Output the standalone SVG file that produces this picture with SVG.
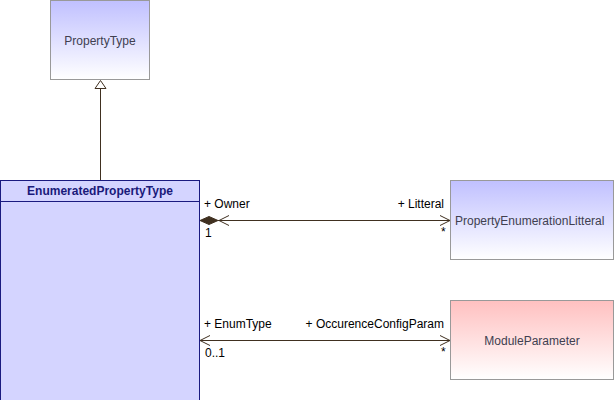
<svg xmlns="http://www.w3.org/2000/svg" width="614" height="400" viewBox="0 0 614 400">
<style>
.lbl{font-family:"Liberation Sans",Arial,sans-serif;font-size:12px;fill:#000}
.name{font-family:"Liberation Sans",Arial,sans-serif;font-size:12px;fill:#404050}
.title{font-family:"Liberation Sans",Arial,sans-serif;font-size:12px;font-weight:bold;fill:#1a1a7a}
.box{stroke:#999;stroke-width:1}
.conn{stroke:#403020;stroke-width:1;fill:none}
</style>
<defs>
<linearGradient id="gBlue" x1="0" y1="0" x2="0" y2="1">
<stop offset="0" stop-color="#c0c0ff"/>
<stop offset="1" stop-color="#ffffff"/>
</linearGradient>
<linearGradient id="gRed" x1="0" y1="0" x2="0" y2="1">
<stop offset="0" stop-color="#ffc0c0"/>
<stop offset="1" stop-color="#ffffff"/>
</linearGradient>
</defs>
<rect width="614" height="400" fill="#fff"/>
<g id="PropertyType">
<rect class="box" x="50.5" y="0.5" width="99" height="79" fill="url(#gBlue)"/>
<text class="name" x="100" y="45" text-anchor="middle">PropertyType</text>
</g>
<g id="EnumeratedPropertyType">
<rect x="0.5" y="180.5" width="199" height="222" fill="#d4d4ff" stroke="#1a1a80" stroke-width="1"/>
<line x1="0" y1="201.5" x2="200" y2="201.5" stroke="#1a1a80" stroke-width="1"/>
<text class="title" x="100" y="195" text-anchor="middle">EnumeratedPropertyType</text>
</g>
<g id="PropertyEnumerationLitteral">
<rect class="box" x="450.5" y="180.5" width="163" height="79" fill="url(#gBlue)"/>
<text class="name" x="455" y="225">PropertyEnumerationLitteral</text>
</g>
<g id="ModuleParameter">
<rect class="box" x="450.5" y="300.5" width="163" height="79" fill="url(#gRed)"/>
<text class="name" x="532" y="345" text-anchor="middle">ModuleParameter</text>
</g>
<g id="connectors">
<line class="conn" x1="100.5" y1="88" x2="100.5" y2="180"/>
<polygon points="100.5,80.5 95,88.5 106,88.5" fill="#fff" stroke="#403020"/>
<line class="conn" x1="218" y1="220.5" x2="450" y2="220.5"/>
<polygon points="200,220.5 209,216.5 218,220.5 209,224.5" fill="#403020" stroke="#403020"/>
<polyline class="conn" points="229,215.5 219,220.5 229,225.5"/>
<polyline class="conn" points="440,215.5 450,220.5 440,225.5"/>
<text class="lbl" x="204" y="208">+ Owner</text>
<text class="lbl" x="205" y="237" fill="#402000">1</text>
<text class="lbl" x="444" y="208" text-anchor="end">+ Litteral</text>
<text class="lbl" x="441" y="236" font-size="10">*</text>
<line class="conn" x1="200" y1="340.5" x2="450" y2="340.5"/>
<polyline class="conn" points="210,335.5 200,340.5 210,345.5"/>
<polyline class="conn" points="440,335.5 450,340.5 440,345.5"/>
<text class="lbl" x="204" y="328">+ EnumType</text>
<text class="lbl" x="205" y="357">0..1</text>
<text class="lbl" x="444" y="328" text-anchor="end">+ OccurenceConfigParam</text>
<text class="lbl" x="441" y="356" font-size="10">*</text>
</g>
</svg>
